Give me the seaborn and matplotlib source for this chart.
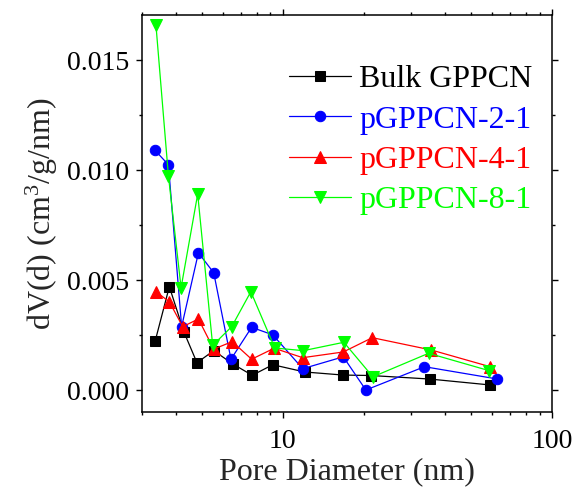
import numpy as np
import matplotlib as mpl
mpl.use('Agg')

import matplotlib.pyplot as plt
from matplotlib import ticker
import pandas as pd
import seaborn as sns

# pore size distribution (BJH)
diam_bulk = [3.36, 3.79, 4.29, 4.80, 5.54, 6.53, 7.70, 9.18, 12.06, 16.78, 21.2, 35.1, 58.9]
dv_bulk = [0.00224, 0.00470, 0.00265, 0.00124, 0.00179, 0.00118, 0.00067, 0.00115, 0.00082, 0.00068, 0.00066, 0.00050, 0.00023]

diam_p21 = [3.34, 3.76, 4.21, 4.86, 5.54, 6.42, 7.66, 9.18, 11.86, 16.78, 20.35, 33.6, 62.7]
dv_p21 = [0.01092, 0.01024, 0.00288, 0.00624, 0.00533, 0.00140, 0.00285, 0.00251, 0.00097, 0.00151, 0.00000, 0.00106, 0.00050]

diam_p41 = [3.38, 3.79, 4.25, 4.86, 5.54, 6.49, 7.66, 9.29, 11.86, 16.78, 21.5, 35.6, 58.9]
dv_p41 = [0.00447, 0.00401, 0.00288, 0.00323, 0.00186, 0.00220, 0.00140, 0.00190, 0.00147, 0.00173, 0.00238, 0.00182, 0.00106]

diam_p81 = [3.38, 3.76, 4.19, 4.83, 5.49, 6.46, 7.61, 9.34, 11.93, 16.86, 21.6, 34.8, 58.4]
dv_p81 = [0.01659, 0.00974, 0.00465, 0.00891, 0.00203, 0.00288, 0.00447, 0.00191, 0.00179, 0.00217, 0.00060, 0.00167, 0.00088]

labels = ["Bulk GPPCN", "pGPPCN-2-1", "pGPPCN-4-1", "pGPPCN-8-1"]
colors = ["#000000", "#0000FF", "#FF0000", "#00FF00"]
markers = ["s", "o", "^", "v"]
msizes = [6.5, 7.5, 8, 8]

sns.set_style("ticks")
plt.rcParams['font.family'] = ['Liberation Serif', 'DejaVu Serif']
plt.rcParams['mathtext.fontset'] = 'custom'
plt.rcParams['mathtext.rm'] = 'Liberation Serif'
plt.rcParams['mathtext.it'] = 'Liberation Serif:italic'

fig = plt.figure(figsize=(5.74, 4.88), dpi=100)
ax = fig.add_axes([0.2474, 0.1557, 0.7143, 0.8136])

series = [(diam_bulk, dv_bulk), (diam_p21, dv_p21), (diam_p41, dv_p41), (diam_p81, dv_p81)]
for (x, y), lab, c, m, ms in zip(series, labels, colors, markers, msizes):
    df = pd.DataFrame({"d": x, "dv": y})
    sns.lineplot(data=df, x="d", y="dv", ax=ax, color=c, marker=m, markersize=ms,
                 markeredgecolor=c, linewidth=0.9, label=lab, sort=False)

ax.set_xscale('log')
ax.set_xlim(3, 100)
ax.set_ylim(-0.001, 0.01705)
ax.xaxis.set_major_locator(ticker.LogLocator(base=10))
ax.xaxis.set_minor_locator(ticker.LogLocator(base=10, subs=np.arange(2, 10)))
ax.xaxis.set_major_formatter(ticker.FuncFormatter(lambda v, p: '%g' % v))
ax.xaxis.set_minor_formatter(ticker.NullFormatter())
ax.yaxis.set_major_locator(ticker.MultipleLocator(0.005))
ax.yaxis.set_minor_locator(ticker.MultipleLocator(0.0025))
ax.yaxis.set_major_formatter(ticker.FormatStrFormatter('%.3f'))

for s in ax.spines.values():
    s.set_linewidth(1.1)
    s.set_color('black')
ax.tick_params(which='both', direction='out', top=True, right=True, width=1.0, colors='black')
ax.tick_params(which='major', length=4.5, pad=5, labelsize=20)
ax.tick_params(axis='x', which='major', pad=8)
ax.tick_params(which='minor', length=2.5)

ax.set_xlabel("Pore Diameter (nm)", fontsize=23, labelpad=2)
ax.set_ylabel("dV(d) (cm$^3$/g/nm)", fontsize=23, labelpad=5)

leg = ax.legend(loc='upper left', bbox_to_anchor=(0.359, 0.874), frameon=False,
                fontsize=23, handlelength=1.95, handletextpad=0.25, labelspacing=0.34,
                borderpad=0, borderaxespad=0)
for txt, c in zip(leg.get_texts(), colors):
    txt.set_color(c)

fig.savefig("out.png", dpi=100)
